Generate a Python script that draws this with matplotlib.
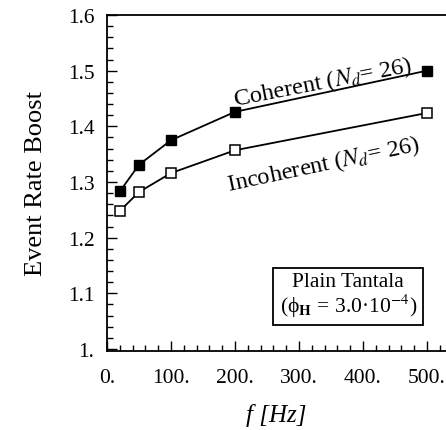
import matplotlib
matplotlib.use("Agg")
import matplotlib.pyplot as plt
from matplotlib.ticker import MultipleLocator, FuncFormatter

plt.rcParams['font.family'] = ['Liberation Serif', 'DejaVu Serif']
plt.rcParams['mathtext.fontset'] = 'stix'

freq = [20, 50, 100, 200, 500]
coherent = [1.283, 1.331, 1.375, 1.426, 1.500]
incoherent = [1.248, 1.282, 1.316, 1.357, 1.424]
x_ticks = [0, 100, 200, 300, 400, 500]
y_ticks = [1.0, 1.1, 1.2, 1.3, 1.4, 1.5, 1.6]

fig = plt.figure(figsize=(4.46, 4.31), dpi=100)
ax = fig.add_axes([107/446, 79/431, (446-107)/446, 336/431])

ax.plot(freq, coherent, color='black', lw=1.3, marker='s', ms=7.5,
        mfc='black', mec='black')
ax.plot(freq, incoherent, color='black', lw=1.3, marker='s', ms=7,
        mfc='white', mec='black', mew=1.1)

ax.set_xlim(0, 529.7)
ax.set_ylim(0.9964, 1.6)
ax.set_xticks(x_ticks)
ax.set_yticks(y_ticks)
ax.xaxis.set_minor_locator(MultipleLocator(20))
ax.yaxis.set_minor_locator(MultipleLocator(0.02))
ax.xaxis.set_major_formatter(FuncFormatter(lambda v, p: f"{int(round(v))}."))

def yfmt(v, p):
    s = f"{v:.1f}"
    return "1." if s == "1.0" else s
ax.yaxis.set_major_formatter(FuncFormatter(yfmt))

ax.tick_params(which='both', direction='in', top=False, right=False,
               labelsize=15.5, width=1.0)
ax.tick_params(axis='x', which='major', pad=12)
ax.tick_params(axis='y', which='major', pad=9)
ax.tick_params(which='major', length=7)
ax.tick_params(which='minor', length=4)
ax.spines['right'].set_visible(False)
for s in ['left', 'bottom', 'top']:
    ax.spines[s].set_linewidth(1.3)

ax.set_ylabel("Event Rate Boost", fontsize=19, labelpad=15)
ax.set_xlabel("f [Hz]", fontsize=18, style='italic', labelpad=12)

ax.text(337, 1.480, r"Coherent ($N_d$= 26)", fontsize=17.5, rotation=11,
        ha='center', va='center', rotation_mode='anchor')
ax.text(338, 1.332, r"Incoherent ($N_d$= 26)", fontsize=17.5, rotation=12,
        ha='center', va='center', rotation_mode='anchor')

ax.text(377, 1.096, "Plain Tantala\n(ϕ$_{\\mathbf{H}}$ = 3.0·10$^{-4}$)",
        fontsize=15.5, ha='center', va='center', linespacing=1.0,
        bbox=dict(boxstyle='square,pad=0.3', fc='white', ec='black', lw=1.3))

fig.savefig("out.png", dpi=100)
